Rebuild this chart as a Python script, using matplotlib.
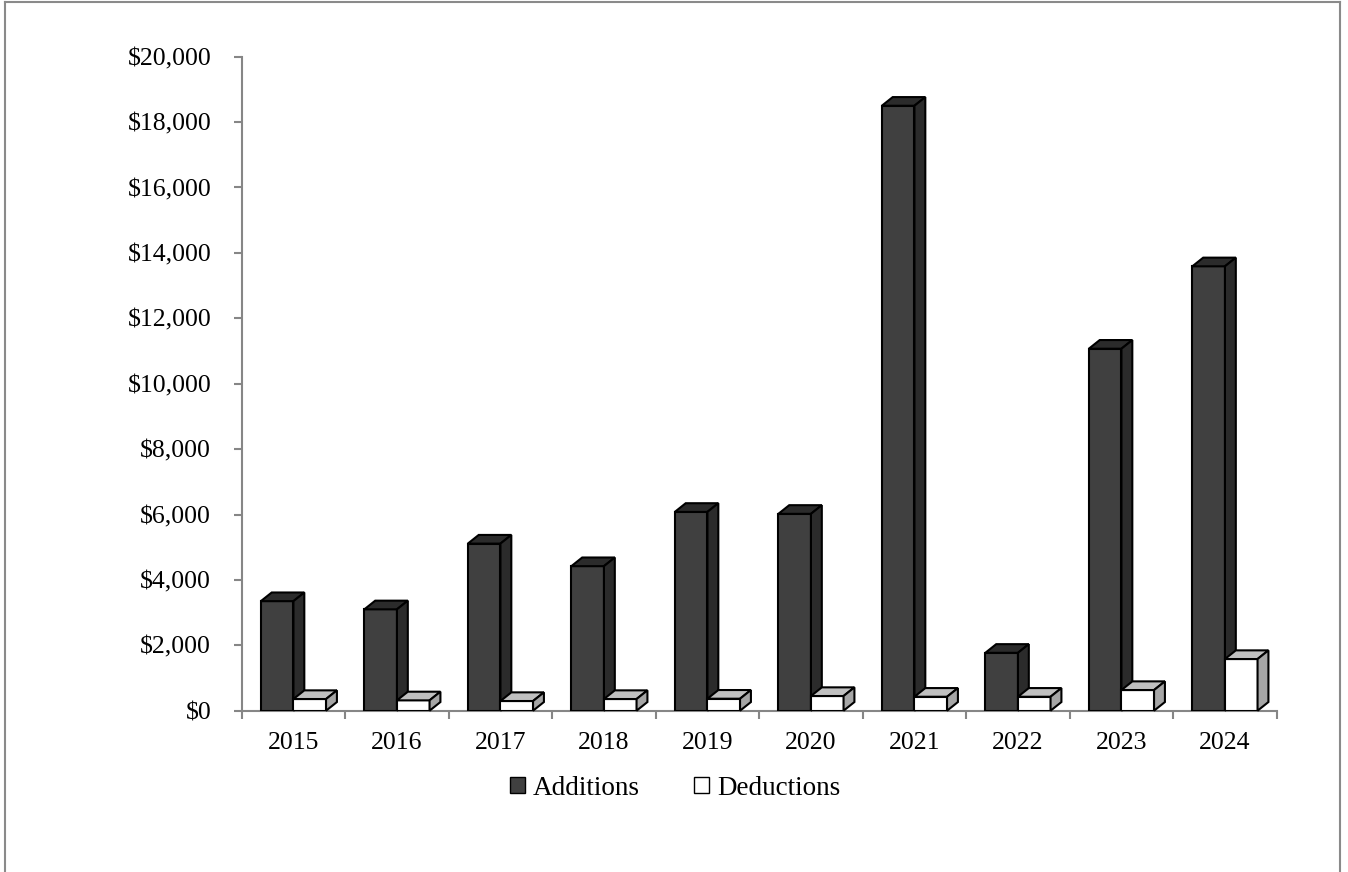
import matplotlib.pyplot as plt
import numpy as np
from matplotlib.patches import Polygon, Patch
from matplotlib.lines import Line2D

plt.rcParams['font.family'] = ['Liberation Serif', 'DejaVu Serif']

years = ['2015', '2016', '2017', '2018', '2019', '2020', '2021', '2022', '2023', '2024']
additions = [3350, 3100, 5110, 4420, 6080, 6020, 18500, 1770, 11070, 13590]
deductions = [357, 316, 296, 357, 367, 449, 427, 427, 632, 1580]
yticks = list(range(0, 20001, 2000))

W, H = 1348, 872
fig = plt.figure(figsize=(W / 100, H / 100), dpi=100)
ax = fig.add_axes([241.7 / W, 1 - 710.7 / H, 1035 / W, (710.7 - 56.7) / H])

axis_gray = '#868686'
bw = 0.315
ddx = 0.105      # depth in category units
ddy = 265        # depth in data units
x = np.arange(len(years))


def draw_bars(xs, vals, front, top, side):
    bars = ax.bar(xs, vals, width=bw, align='edge', color=front,
                  edgecolor='black', linewidth=1.5, zorder=3)
    for b in bars:
        x0 = b.get_x()
        x1 = x0 + b.get_width()
        h = b.get_height()
        ax.add_patch(Polygon([(x0, h), (x1, h), (x1 + ddx, h + ddy), (x0 + ddx, h + ddy)],
                             closed=True, facecolor=top, edgecolor='black',
                             linewidth=1.5, zorder=3, clip_on=False))
        ax.add_patch(Polygon([(x1, 0), (x1 + ddx, ddy), (x1 + ddx, h + ddy), (x1, h)],
                             closed=True, facecolor=side, edgecolor='black',
                             linewidth=1.5, zorder=3, clip_on=False))


draw_bars(x - bw, additions, '#404040', '#2b2b2b', '#2b2b2b')
draw_bars(x, deductions, '#ffffff', '#c0c0c0', '#a6a6a6')

ax.set_xlim(-0.5, len(years) - 0.5)
ax.set_ylim(0, 20000)
ax.set_yticks(yticks)
ax.set_yticklabels(['${:,}'.format(v) for v in yticks])
ax.set_xticks(x)
ax.set_xticklabels(years)
ax.set_xticks(np.arange(len(years) + 1) - 0.5, minor=True)

for s in ['top', 'right']:
    ax.spines[s].set_visible(False)
for s in ['left', 'bottom']:
    ax.spines[s].set_color(axis_gray)
    ax.spines[s].set_linewidth(1.5)

ax.tick_params(axis='y', length=6, width=1.5, color=axis_gray, pad=16, labelsize=18.5)
ax.tick_params(axis='x', which='major', length=0, pad=15, labelsize=18.5)
ax.tick_params(axis='x', which='minor', length=6, width=1.5, color=axis_gray)

handles = [Patch(facecolor='#404040', edgecolor='black', linewidth=1.0),
           Patch(facecolor='#ffffff', edgecolor='black', linewidth=1.0)]
fig.legend(handles, ['Additions', 'Deductions'], loc='center',
           bbox_to_anchor=(675 / W, 1 - 788 / H), ncol=2, frameon=False,
           fontsize=19.5, handlelength=0.55, handleheight=0.55,
           handletextpad=0.3, columnspacing=2.0)

# outer frame
border = '#8a8a8a'
fig.add_artist(Line2D([4.7 / W, 4.7 / W], [0, 1 - 2 / H], color=border, lw=1.5))
fig.add_artist(Line2D([4.7 / W, 1340 / W], [1 - 2 / H, 1 - 2 / H], color=border, lw=1.5))
fig.add_artist(Line2D([1340 / W, 1340 / W], [0, 1 - 2 / H], color=border, lw=1.5))

fig.savefig('out.png', dpi=100, facecolor='white')
